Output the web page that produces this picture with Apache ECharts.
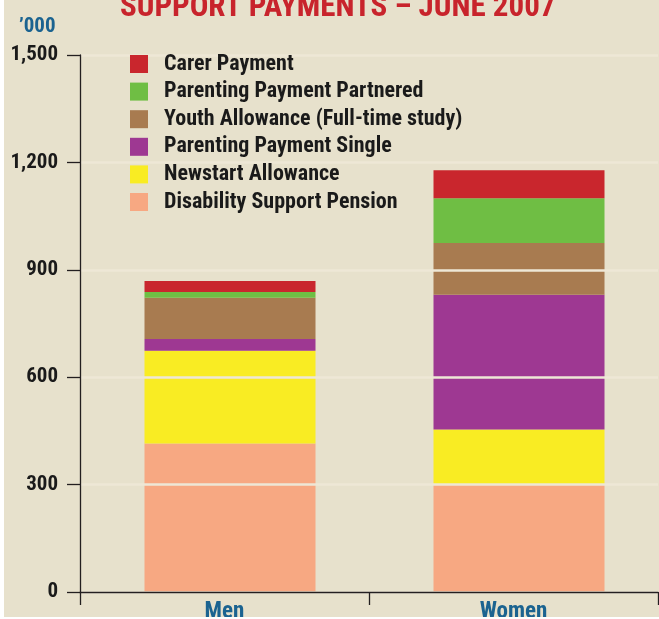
<!DOCTYPE html>
<html>
<head>
<meta charset="utf-8">
<script src="https://cdn.jsdelivr.net/npm/echarts@6/dist/echarts.min.js"></script>
<style>
  html, body { margin: 0; padding: 0; background: #ffffff; }
  #chart { position: absolute; left: 4px; top: 0; width: 655px; height: 617px; }
</style>
</head>
<body>
<div id="chart"></div>
<script>
// Recipients by payment type, thousands
const categories = ['Men', 'Women'];
const disabilitySupport = [415, 302];
const newstart = [259, 152];
const parentingSingle = [33, 376];
const youthAllowance = [115, 145];
const parentingPartnered = [16, 125];
const carerPayment = [31, 78];

const yMin = 0;
const yMax = 1500;
const yStep = 300;

const FONT = "'Liberation Sans Narrow', 'Roboto Condensed', 'Open Sans', sans-serif";
const BLUE = '#1b6390';
const INK = '#1a1a1a';

const seriesDefs = [
  { name: 'Disability Support Pension', data: disabilitySupport, color: '#f7a882' },
  { name: 'Newstart Allowance', data: newstart, color: '#f9ec23' },
  { name: 'Parenting Payment Single', data: parentingSingle, color: '#9e3892' },
  { name: 'Youth Allowance (Full-time study)', data: youthAllowance, color: '#a87b50' },
  { name: 'Parenting Payment Partnered', data: parentingPartnered, color: '#6fbe44' },
  { name: 'Carer Payment', data: carerPayment, color: '#c9262d' }
];

const GRID_TOP = 55;
const GRID_BOTTOM = 25;

const chart = echarts.init(document.getElementById('chart'));

chart.setOption({
  backgroundColor: '#e7e1cc',
  animation: false,
  textStyle: { fontFamily: FONT },
  graphic: [
    {
      type: 'text',
      left: 116,
      top: -7,
      style: {
        text: 'SUPPORT PAYMENTS – JUNE 2007',
        fill: '#c8242c',
        font: 'bold 31px ' + FONT
      }
    },
    {
      type: 'text',
      left: 15,
      top: 16,
      style: {
        text: '\u2019000',
        fill: BLUE,
        font: 'bold 21px ' + FONT
      }
    }
  ],
  legend: {
    orient: 'vertical',
    left: 126,
    top: 53,
    padding: 0,
    itemWidth: 18,
    itemHeight: 18,
    itemGap: 5.6,
    icon: 'rect',
    data: seriesDefs.map(s => s.name).reverse(),
    textStyle: {
      fontFamily: FONT,
      fontSize: 22,
      fontWeight: 'bold',
      color: INK,
      lineHeight: 18,
      padding: [0, 0, 0, 11]
    },
    itemStyle: { borderWidth: 0 }
  },
  // grid 0 carries the visible axes, grid 1 places the columns
  grid: [
    { left: 76, right: 1, top: GRID_TOP, bottom: GRID_BOTTOM, containLabel: false, outerBoundsMode: 'none' },
    { left: 81.5, right: -4.5, top: GRID_TOP, bottom: GRID_BOTTOM, containLabel: false, outerBoundsMode: 'none' }
  ],
  xAxis: [
    {
      type: 'category',
      gridIndex: 0,
      data: categories,
      z: 4,
      axisLine: { lineStyle: { color: '#231f20', width: 1.3 } },
      axisTick: { show: true, length: 13, lineStyle: { color: '#231f20', width: 1.3 } },
      axisLabel: {
        margin: 9,
        color: BLUE,
        fontFamily: FONT,
        fontSize: 23,
        fontWeight: 'bold'
      }
    },
    {
      type: 'category',
      gridIndex: 1,
      data: categories,
      show: false
    }
  ],
  yAxis: [
    {
      type: 'value',
      gridIndex: 0,
      min: yMin,
      max: yMax,
      interval: yStep,
      z: 3,
      axisLine: { show: true, lineStyle: { color: '#231f20', width: 1.3 } },
      axisTick: { show: true, length: 13, lineStyle: { color: '#231f20', width: 1.3 } },
      axisLabel: {
        margin: 22,
        color: INK,
        fontFamily: FONT,
        fontSize: 21,
        fontWeight: 'bold',
        formatter: v => v.toLocaleString('en-US')
      },
      splitLine: { show: true, lineStyle: { color: '#eee7d6', width: 2.6 } }
    },
    {
      type: 'value',
      gridIndex: 1,
      min: yMin,
      max: yMax,
      interval: yStep,
      show: false,
      splitLine: { show: false }
    }
  ],
  series: seriesDefs.map(s => ({
    name: s.name,
    type: 'bar',
    stack: 'total',
    xAxisIndex: 1,
    yAxisIndex: 1,
    barWidth: 171,
    data: s.data,
    itemStyle: { color: s.color },
    emphasis: { disabled: true }
  }))
});
</script>
</body>
</html>
